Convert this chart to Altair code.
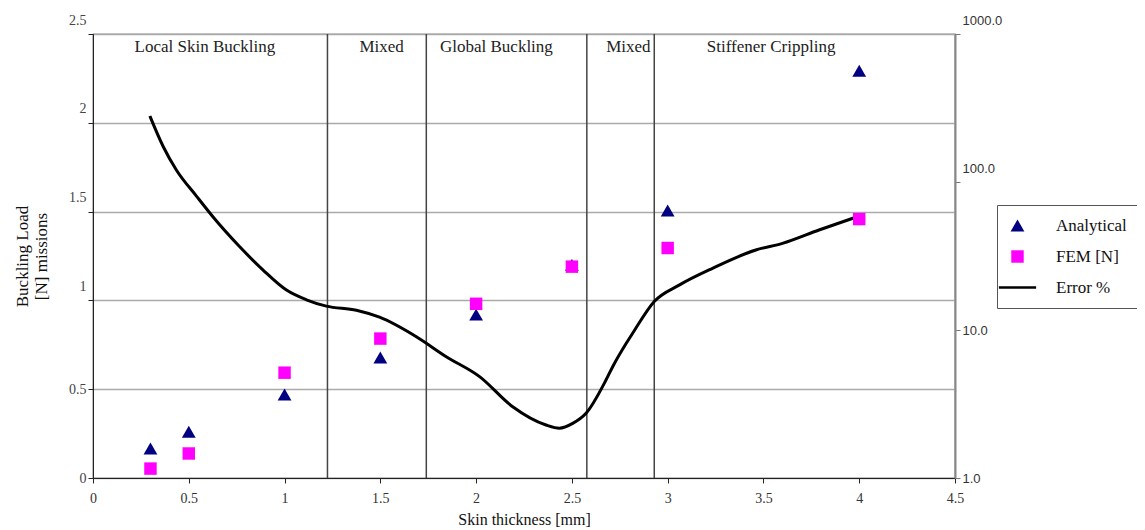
import altair as alt
import pandas as pd

# ---- data ----
thickness = [0.3, 0.5, 1.0, 1.5, 2.0, 2.5, 3.0, 4.0]
analytical = [0.166, 0.26, 0.47, 0.678, 0.92, 1.20, 1.506, 2.293]
fem = [0.053, 0.138, 0.593, 0.785, 0.981, 1.19, 1.295, 1.458]

err_x = [0.297, 0.367, 0.436, 0.541, 0.627, 0.766, 0.888, 1.010, 1.114, 1.218,
         1.375, 1.496, 1.688, 1.844, 2.018, 2.191, 2.365, 2.435, 2.504, 2.574,
         2.678, 2.713, 2.783, 2.817, 2.930, 3.060, 3.234, 3.460, 3.599, 3.790, 3.990]
err_y = [279, 173, 120, 80, 58, 36.5, 25.4, 18.6, 16.0, 14.5,
         13.6, 12.2, 9.0, 6.6, 4.84, 3.03, 2.28, 2.17, 2.34, 2.74,
         4.59, 5.65, 8.1, 9.5, 15.6, 20.1, 26.1, 34.7, 38.5, 47.4, 58.3]

boundaries = [1.224, 1.740, 2.578, 2.930]
region_names = ["Local Skin Buckling", "Mixed", "Global Buckling", "Mixed", "Stiffener Crippling"]
region_x = [0.584, 1.507, 2.106, 2.795, 3.54]

series_names = ["Analytical", "FEM [N]", "Error %"]
series_colors = ["#000080", "#ff00ff", "#000000"]

x_ticks = [0, 0.5, 1, 1.5, 2, 2.5, 3, 3.5, 4, 4.5]
y_ticks = [0, 0.5, 1, 1.5, 2, 2.5]
err_ticks = [1, 10, 100, 1000]

# ---- tables ----
pts = pd.DataFrame({
    "thickness": thickness * 2,
    "load": analytical + fem,
    "series": ["Analytical"] * len(thickness) + ["FEM [N]"] * len(thickness),
})
err = pd.DataFrame({"thickness": err_x, "err": err_y})
bdf = pd.DataFrame({"thickness": boundaries})
rdf = pd.DataFrame({"thickness": region_x, "name": region_names})

SERIF = "Liberation Serif"
SANS = "Liberation Sans"
line_path = "M-3.4,-0.25L3.4,-0.25L3.4,0.25L-3.4,0.25Z"

xscale = alt.Scale(domain=[0, 4.5], nice=False, zero=False)
xaxis = alt.Axis(values=x_ticks, format="~g", title="Skin thickness [mm]", grid=False,
                 labelFont=SERIF, labelFontSize=14, labelColor="#333", labelFlush=False,
                 titleFont=SERIF, titleFontSize=16, titleFontWeight="normal",
                 titleColor="#111", titlePadding=6, labelPadding=8,
                 tickSize=5, tickColor="#222", domainColor="#222")

def X():
    return alt.X("thickness:Q", scale=xscale, axis=xaxis, title="Skin thickness [mm]")

rules = alt.Chart(bdf).mark_rule(color="#444", strokeWidth=1.5).encode(x=X())

texts = alt.Chart(rdf).mark_text(font=SERIF, fontSize=17, color="#222",
                                 baseline="middle", align="center").encode(
    x=X(),
    y=alt.value(13),
    text="name:N",
)

points = alt.Chart(pts).mark_point(filled=True, opacity=1).encode(
    x=X(),
    y=alt.Y("load:Q", scale=alt.Scale(domain=[0, 2.5], nice=False),
            axis=alt.Axis(orient="left", values=y_ticks, format="~g", grid=True,
                          gridColor="#aaaaaa", gridWidth=1.5, labelFlush=False,
                          title=["Buckling Load", "[N] missions"],
                          titleFont=SERIF, titleFontSize=17, titleFontWeight="normal",
                          titleColor="#111", titlePadding=18,
                          labelFont=SERIF, labelFontSize=14, labelColor="#444",
                          labelOffset={"condition": {"test": "datum.value >= 1", "value": -14}, "value": 0},
                          tickSize=5, tickColor="#222", domainColor="#222")),
    color=alt.Color("series:N",
                    scale=alt.Scale(domain=series_names, range=series_colors),
                    legend=alt.Legend(title=None, orient="none", legendX=904, legendY=171,
                                      strokeColor="#555", fillColor="white", padding=12,
                                      labelFont=SERIF, labelFontSize=17, labelColor="#111",
                                      symbolSize=150, rowPadding=13, labelOffset=30,
                                      symbolStrokeWidth=0)),
    shape=alt.Shape("series:N",
                    scale=alt.Scale(domain=series_names,
                                    range=["triangle-up", "square", line_path])),
    size=alt.Size("series:N",
                  scale=alt.Scale(domain=series_names, range=[190, 120, 150]),
                  legend=None),
)

errline = alt.Chart(err).mark_line(color="black", strokeWidth=3, interpolate="monotone").encode(
    x=X(),
    y=alt.Y("err:Q", scale=alt.Scale(type="log", domain=[1, 1000], nice=False),
            axis=alt.Axis(orient="right", values=err_ticks, format=".1f", grid=False,
                          title=None, labelFont=SANS, labelFontSize=13, labelColor="#333",
                          labelFlush=False,
                          labelOffset={"condition": {"test": "datum.value >= 100", "value": -14}, "value": 0},
                          tickSize=5, tickColor="#777", domainColor="#888", domainWidth=2)),
)

chart = alt.layer(rules, errline, points, texts).resolve_scale(
    y="independent"
).properties(
    width=862, height=444,
    autosize=alt.AutoSizeParams(type="none"),
    padding={"left": 85, "top": 26, "right": 182, "bottom": 52},
    background="white",
).configure_view(stroke="#222", strokeWidth=1.2)

chart.save("out.html", embed_options={"renderer": "svg", "actions": False})
